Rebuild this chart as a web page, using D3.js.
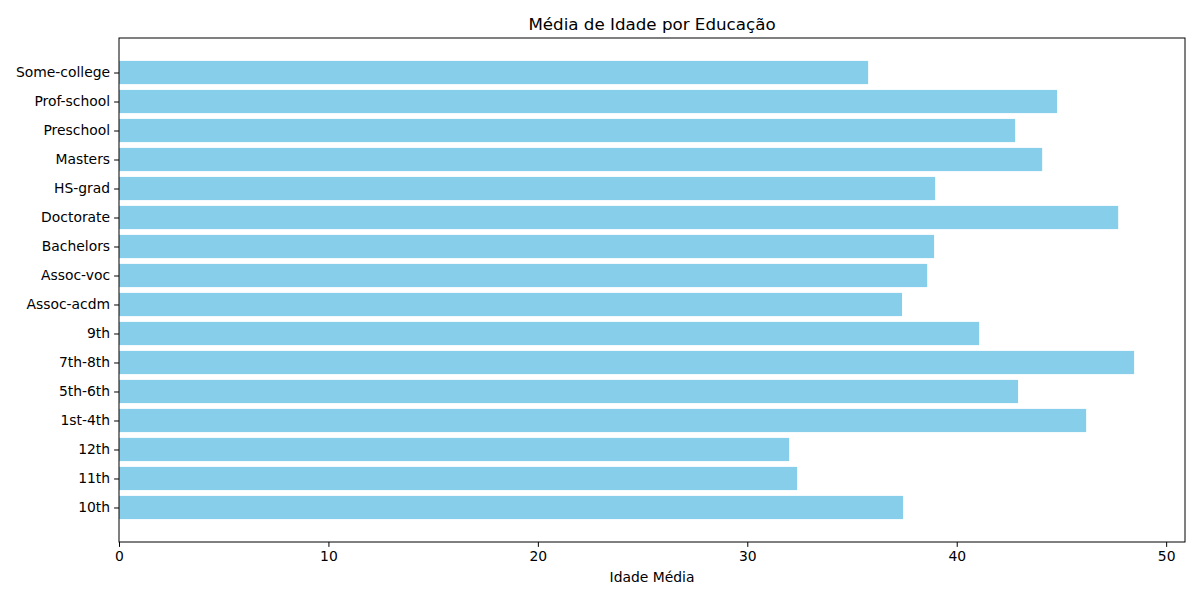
<!DOCTYPE html>
<html><head><meta charset="utf-8">
<script src="https://cdn.jsdelivr.net/npm/d3@7"></script>
<style>body{margin:0;background:#fff}text{font-family:"DejaVu Sans",sans-serif}</style>
</head><body><svg id="c" width="1200" height="600"></svg>
<script>
const categories=["10th","11th","12th","1st-4th","5th-6th","7th-8th","9th","Assoc-acdm","Assoc-voc","Bachelors","Doctorate","HS-grad","Masters","Preschool","Prof-school","Some-college"];
const values=[37.44,32.38,32.0,46.18,42.93,48.47,41.07,37.39,38.59,38.92,47.71,38.97,44.08,42.79,44.79,35.77];
const xTicks=[0,10,20,30,40,50];
const svg=d3.select("#c");
const L=119,R=1185,T=38,B=542;
const x=d3.scaleLinear().domain([0,50.9]).range([L,R]);
const n=categories.length;
const y=d3.scaleLinear().domain([-0.4-0.79,n-1+0.4+0.79]).range([B,T]);
svg.selectAll("rect.bar").data(values).enter().append("rect")
 .attr("x",x(0)).attr("y",(d,i)=>y(i+0.4)).attr("width",d=>x(d)-x(0))
 .attr("height",(d,i)=>y(i-0.4)-y(i+0.4)).attr("fill","#87ceeb");
svg.append("rect").attr("x",L).attr("y",T).attr("width",R-L).attr("height",B-T).attr("fill","none").attr("stroke","#000").attr("stroke-width",1);
const xa=svg.append("g").attr("transform",`translate(0,${B})`).call(d3.axisBottom(x).tickValues(xTicks).tickSize(4.9).tickPadding(4));
const ya=svg.append("g").attr("transform",`translate(${L},0)`).call(d3.axisLeft(y).tickValues(d3.range(n)).tickFormat(i=>categories[i]).tickSize(4.9).tickPadding(4));
[xa,ya].forEach(a=>{a.select(".domain").remove();a.selectAll("text").attr("font-size","13.9px").attr("font-family","DejaVu Sans").attr("fill","#000");});
svg.append("text").attr("x",(L+R)/2).attr("y",30).attr("text-anchor","middle").attr("font-size","16.7px").text("Média de Idade por Educação");
svg.append("text").attr("x",(L+R)/2).attr("y",582).attr("text-anchor","middle").attr("font-size","13.9px").text("Idade Média");
</script></body></html>
